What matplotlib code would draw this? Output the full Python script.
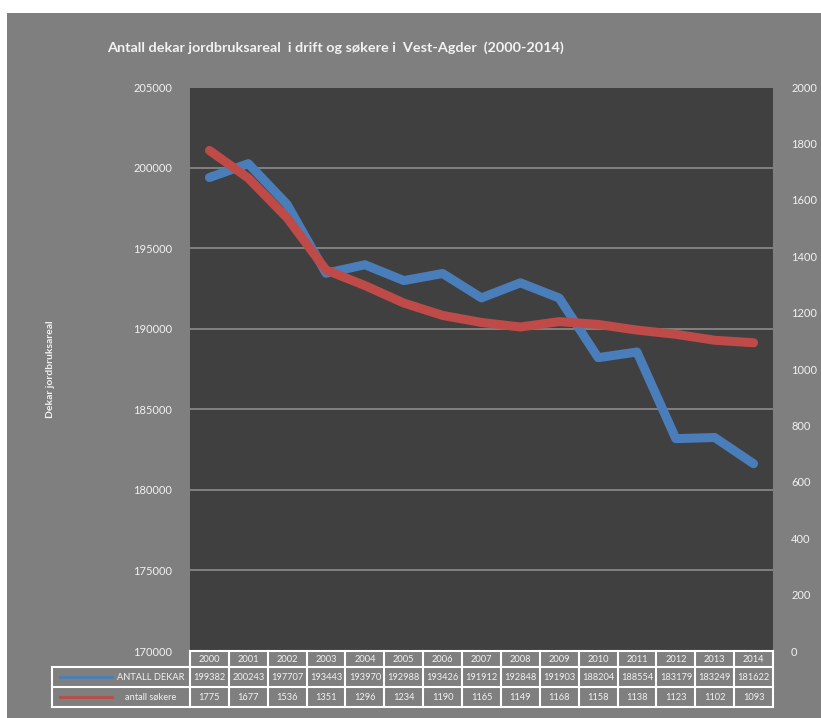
import matplotlib.pyplot as plt
from matplotlib.patches import Rectangle
from matplotlib.lines import Line2D

years = [2000, 2001, 2002, 2003, 2004, 2005, 2006, 2007, 2008, 2009,
         2010, 2011, 2012, 2013, 2014]
dekar = [199382, 200243, 197707, 193443, 193970, 192988, 193426, 191912,
         192848, 191903, 188204, 188554, 183179, 183249, 181622]
sokere = [1775, 1677, 1536, 1351, 1296, 1234, 1190, 1165, 1149, 1168,
          1158, 1138, 1123, 1102, 1093]
series_names = ["ANTALL DEKAR", "antall søkere"]

W, H = 821, 718
BLUE = "#4a7ebb"
RED = "#be4b48"
BG = "#7f7f7f"
PLOT_BG = "#404040"
TXT = "#f2f2f2"

plt.rcParams['font.family'] = ['Lato', 'DejaVu Sans']


def fx(x):
    return x / W


def fy(y):
    return 1 - y / H


fig = plt.figure(figsize=(W / 100, H / 100), dpi=100, facecolor="white")
fig.patches.append(Rectangle((fx(7), 0), 1 - fx(7), fy(13), transform=fig.transFigure,
                             facecolor=BG, edgecolor="none", zorder=-10))

# plot area in pixels
L, R, T, B = 190, 773, 87, 651
ax = fig.add_axes([fx(L), fy(B), fx(R) - fx(L), fy(T) - fy(B)])
ax.set_facecolor(PLOT_BG)
x = list(range(len(years)))
ax.set_xlim(-0.5, len(years) - 0.5)
ax.set_ylim(170000, 205000)
ax.set_yticks(range(170000, 205001, 5000))
ax.yaxis.grid(True, color="#8c8c8c", linewidth=1.2)
ax.set_axisbelow(True)
ax.set_xticks([])
for s in ax.spines.values():
    s.set_visible(False)
ax.tick_params(axis="y", length=0, labelsize=8, labelcolor=TXT, pad=13)
ax.plot(x, dekar, color=BLUE, linewidth=6.5, solid_capstyle="round",
        solid_joinstyle="round", zorder=3)
ax.set_ylabel("Dekar jordbruksareal", fontsize=7.5, fontweight="bold",
              color=TXT, labelpad=56)

ax2 = ax.twinx()
ax2.set_ylim(0, 2000)
ax2.set_yticks(range(0, 2001, 200))
for s in ax2.spines.values():
    s.set_visible(False)
ax2.tick_params(axis="y", length=0, labelsize=8, labelcolor=TXT, pad=13)
ax2.plot(x, sokere, color=RED, linewidth=6.5, solid_capstyle="round",
         solid_joinstyle="round", zorder=4)

fig.text(fx(107), fy(48), "Antall dekar jordbruksareal  i drift og søkere i  Vest-Agder  (2000-2014)",
         fontsize=10.4, fontweight="bold", color=TXT, ha="left", va="center")

# data table under the chart
cw = (R - L) / len(years)
rows_y = [651, 667, 687, 707]
lw = 1.5
def line(x0, y0, x1, y1):
    fig.add_artist(Line2D([fx(x0), fx(x1)], [fy(y0), fy(y1)], color="white",
                          linewidth=lw, transform=fig.transFigure))

line(L, rows_y[0], R, rows_y[0])
for yy in rows_y[1:]:
    line(52, yy, R, yy)
for i in range(len(years) + 1):
    line(L + i * cw, rows_y[0], L + i * cw, rows_y[3])
line(52, rows_y[1], 52, rows_y[3])

fs = 6.7
for i, yr in enumerate(years):
    cx = L + (i + 0.5) * cw
    fig.text(fx(cx), fy((rows_y[0] + rows_y[1]) / 2), str(yr), fontsize=fs,
             color=TXT, ha="center", va="center")
    fig.text(fx(cx), fy((rows_y[1] + rows_y[2]) / 2), str(dekar[i]), fontsize=fs,
             color=TXT, ha="center", va="center")
    fig.text(fx(cx), fy((rows_y[2] + rows_y[3]) / 2), str(sokere[i]), fontsize=fs,
             color=TXT, ha="center", va="center")

for k, (name, col) in enumerate(zip(series_names, [BLUE, RED])):
    ym = (rows_y[k + 1] + rows_y[k + 2]) / 2
    fig.add_artist(Line2D([fx(60), fx(112)], [fy(ym), fy(ym)], color=col,
                          linewidth=2, transform=fig.transFigure))
    fig.text(fx(151), fy(ym), name, fontsize=fs, color=TXT, ha="center", va="center")

fig.savefig("out.png", dpi=100, facecolor=fig.get_facecolor())
